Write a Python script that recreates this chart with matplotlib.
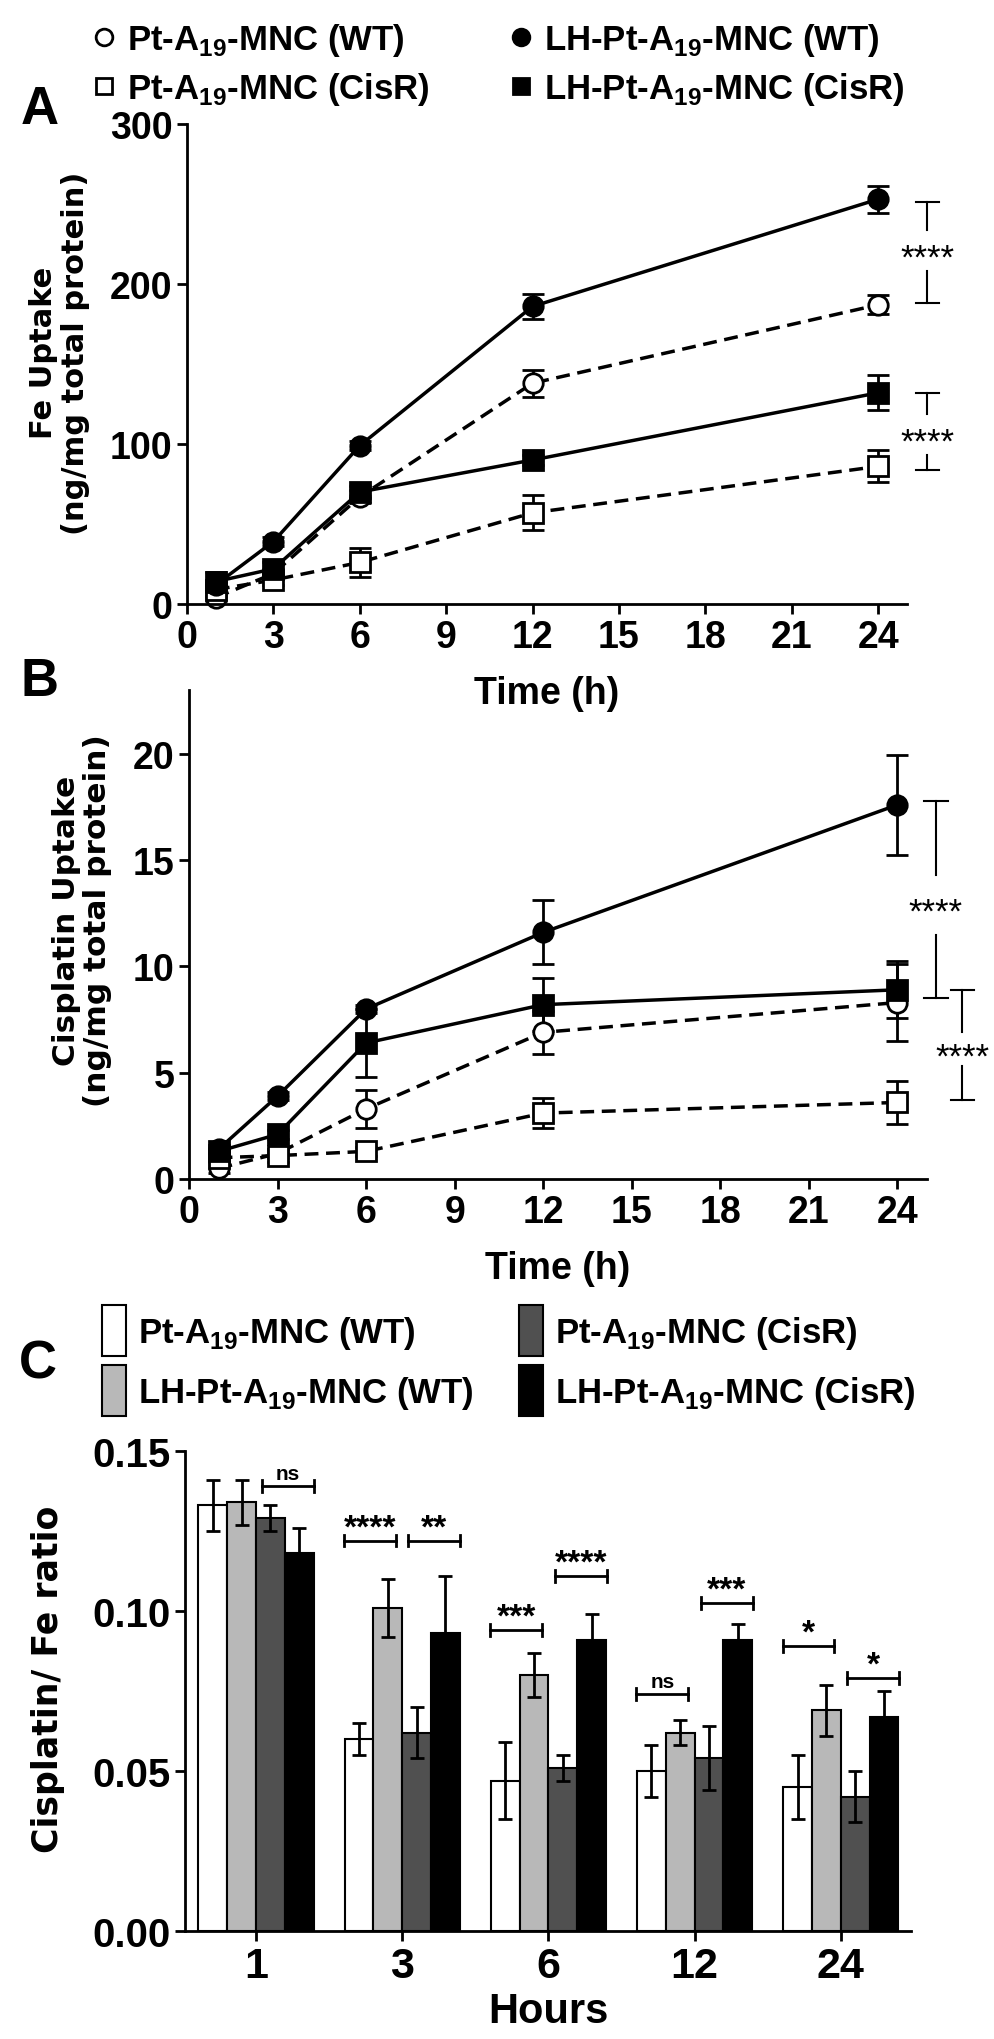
import matplotlib
matplotlib.use('Agg')
import matplotlib.pyplot as plt
import numpy as np
from matplotlib.lines import Line2D
from matplotlib.transforms import offset_copy

# Liberation Sans bold for ticks/legends, DejaVu Sans bold for the y labels
plt.rcParams['font.family'] = ['Liberation Sans', 'DejaVu Sans']
plt.rcParams['font.weight'] = 'bold'
plt.rcParams['axes.labelweight'] = 'bold'
plt.rcParams['mathtext.fontset'] = 'custom'
plt.rcParams['mathtext.bf'] = 'Liberation Sans:bold'
plt.rcParams['mathtext.rm'] = 'Liberation Sans:bold'
plt.rcParams['axes.linewidth'] = 2.0
plt.rcParams['xtick.major.width'] = 2.0
plt.rcParams['ytick.major.width'] = 2.0
plt.rcParams['xtick.major.size'] = 7
plt.rcParams['ytick.major.size'] = 7

# data
hours = [1, 3, 6, 12, 24]

fe_pt_wt = [4, 19, 67, 138, 187]
fe_pt_wt_err = [2, 3, 4, 8.5, 6]
fe_lh_wt = [12, 39, 99, 186, 253]
fe_lh_wt_err = [3, 3, 3, 8, 8.5]
fe_pt_cisr = [9, 15, 26, 57, 86]
fe_pt_cisr_err = [4, 3, 9, 11, 10]
fe_lh_cisr = [14, 22, 70, 90, 132]
fe_lh_cisr_err = [6, 4, 4, 3, 11]

cis_pt_wt = [0.5, 1.2, 3.3, 6.9, 8.3]
cis_pt_wt_err = [0.2, 0.2, 0.9, 1.0, 1.8]
cis_lh_wt = [1.4, 3.9, 8.0, 11.6, 17.6]
cis_lh_wt_err = [0.2, 0.2, 0.2, 1.5, 2.35]
cis_pt_cisr = [1.0, 1.1, 1.3, 3.1, 3.6]
cis_pt_cisr_err = [0.2, 0.3, 0.2, 0.7, 1.0]
cis_lh_cisr = [1.3, 2.1, 6.4, 8.2, 8.9]
cis_lh_cisr_err = [0.3, 0.2, 1.6, 1.25, 1.35]

ratio_groups = ['1', '3', '6', '12', '24']
ratio_pt_wt = [0.133, 0.060, 0.047, 0.050, 0.045]
ratio_pt_wt_err = [0.008, 0.005, 0.012, 0.008, 0.010]
ratio_lh_wt = [0.134, 0.101, 0.080, 0.062, 0.069]
ratio_lh_wt_err = [0.007, 0.009, 0.007, 0.004, 0.008]
ratio_pt_cisr = [0.129, 0.062, 0.051, 0.054, 0.042]
ratio_pt_cisr_err = [0.004, 0.008, 0.004, 0.010, 0.008]
ratio_lh_cisr = [0.118, 0.093, 0.091, 0.091, 0.067]
ratio_lh_cisr_err = [0.008, 0.018, 0.008, 0.005, 0.008]

# significance in C: (group, pair, y, label); pair 0 = WT bars, 1 = CisR bars
sig_c = [(0, 1, 0.139, 'ns'), (1, 0, 0.122, '****'), (1, 1, 0.122, '**'),
         (2, 0, 0.094, '***'), (2, 1, 0.111, '****'), (3, 0, 0.074, 'ns'),
         (3, 1, 0.1025, '***'), (4, 0, 0.089, '*'), (4, 1, 0.079, '*')]
# significance in A and B: (x, top, bottom, text centre, half gap, label)
sig_a = [(25.7, 251.5, 188, 221, 13, '****'), (25.7, 132, 84, 106, 13, '****')]
sig_b = [(25.3, 17.8, 8.5, 12.9, 1.4, '****'), (26.2, 8.9, 3.7, 6.1, 0.8, '****')]

lab_pt_wt = r'Pt-A$_{\mathbf{19}}$-MNC (WT)'
lab_lh_wt = r'LH-Pt-A$_{\mathbf{19}}$-MNC (WT)'
lab_pt_cisr = r'Pt-A$_{\mathbf{19}}$-MNC (CisR)'
lab_lh_cisr = r'LH-Pt-A$_{\mathbf{19}}$-MNC (CisR)'

fig = plt.figure(figsize=(9.95, 20.4), dpi=100)
W, H = 995, 2040


def px_axes(l, t, r, b):
    ax = fig.add_axes([l / W, 1 - b / H, (r - l) / W, (b - t) / H])
    ax.patch.set_visible(False)
    return ax


def line_panel(ax, series, sig, ymax, yticks):
    for y, e, mk, face, ls in series:
        ax.errorbar(hours, y, yerr=e, color='black', marker=mk, mfc=face, mec='black',
                    mew=2, ms=14, lw=2.5, ls=ls, capsize=8, capthick=2, elinewidth=2,
                    dashes=(4, 2.2) if ls == '--' else (None, None), clip_on=False)
    ax.set_xlim(0, 25)
    ax.set_ylim(0, ymax)
    ax.set_xticks(range(0, 25, 3))
    ax.set_yticks(yticks)
    ax.spines['top'].set_visible(False)
    ax.spines['right'].set_visible(False)
    ax.tick_params(labelsize=27)
    ax.set_xlabel('Time (h)', fontsize=27, labelpad=15)
    # asterisks sit high in the font, so shift the baseline down to centre them
    star_tr = offset_copy(ax.transData, fig=fig, y=-0.5 * 25, units='points')
    for x, top, bot, mid, gap, lab in sig:
        ax.plot([x, x], [top, mid + gap], color='black', lw=1.5, clip_on=False)
        ax.plot([x, x], [mid - gap, bot], color='black', lw=1.5, clip_on=False)
        for yy in (top, bot):
            ax.plot([x - 0.4, x + 0.4], [yy, yy], color='black', lw=1.5, clip_on=False)
        ax.text(x, mid, lab, ha='center', va='baseline', fontsize=25,
                fontweight='normal', transform=star_tr)


# panel A
axA = px_axes(187, 125, 907, 605)
line_panel(axA, [
    (fe_pt_wt, fe_pt_wt_err, 'o', 'white', '--'),
    (fe_pt_cisr, fe_pt_cisr_err, 's', 'white', '--'),
    (fe_lh_cisr, fe_lh_cisr_err, 's', 'black', '-'),
    (fe_lh_wt, fe_lh_wt_err, 'o', 'black', '-'),
], sig_a, 300, [0, 100, 200, 300])
axA.set_ylabel('Fe Uptake\n(ng/mg total protein)', family='DejaVu Sans', fontsize=22,
               linespacing=1.1)
axA.yaxis.set_label_coords(-0.135, 0.525)

# panel B
axB = px_axes(189, 691, 927, 1180)
line_panel(axB, [
    (cis_pt_wt, cis_pt_wt_err, 'o', 'white', '--'),
    (cis_pt_cisr, cis_pt_cisr_err, 's', 'white', '--'),
    (cis_lh_cisr, cis_lh_cisr_err, 's', 'black', '-'),
    (cis_lh_wt, cis_lh_wt_err, 'o', 'black', '-'),
], sig_b, 23, [0, 5, 10, 15, 20])
axB.set_ylabel('Cisplatin Uptake\n(ng/mg total protein)', family='DejaVu Sans', fontsize=22.5,
               linespacing=1.1)
axB.yaxis.set_label_coords(-0.104, 0.53)

# legend for A/B
leg_handles = [
    Line2D([], [], ls='none', marker='o', mfc='white', mec='black', mew=2, ms=12),
    Line2D([], [], ls='none', marker='s', mfc='white', mec='black', mew=2, ms=12),
    Line2D([], [], ls='none', marker='o', mfc='black', mec='black', mew=2, ms=12),
    Line2D([], [], ls='none', marker='s', mfc='black', mec='black', mew=2, ms=12),
]
fig.legend(leg_handles, [lab_pt_wt, lab_pt_cisr, lab_lh_wt, lab_lh_cisr],
           ncol=2, loc='upper left', bbox_to_anchor=(78 / W, 1 - 8 / H), frameon=False,
           fontsize=25, handlelength=0.7, handletextpad=0.3, columnspacing=2.3,
           labelspacing=0.35, borderaxespad=0)

# panel C
axC = px_axes(185, 1452, 911, 1932)
x = np.arange(len(ratio_groups))
w = 0.197
bar_sets = [
    (ratio_pt_wt, ratio_pt_wt_err, 'white', lab_pt_wt),
    (ratio_lh_wt, ratio_lh_wt_err, '#b8b8b8', lab_lh_wt),
    (ratio_pt_cisr, ratio_pt_cisr_err, '#505050', lab_pt_cisr),
    (ratio_lh_cisr, ratio_lh_cisr_err, 'black', lab_lh_cisr),
]
for i, (vals, errs, col, lab) in enumerate(bar_sets):
    axC.bar(x + (i - 1.5) * w, vals, w, yerr=errs, color=col, edgecolor='black', lw=1.5,
            capsize=5, error_kw=dict(elinewidth=2, capthick=2), label=lab)
star_c = offset_copy(axC.transData, fig=fig, y=3, units='points')
ns_c = offset_copy(axC.transData, fig=fig, y=5, units='points')
for g, pair, yy, lab in sig_c:
    c = x[g] + (pair * 2 - 1) * 1.12 * w
    left, right = c - 0.9 * w, c + 0.9 * w
    axC.plot([left, right], [yy, yy], color='black', lw=2)
    for xx in (left, right):
        axC.plot([xx, xx], [yy - 0.0018, yy + 0.0018], color='black', lw=2)
    if lab == 'ns':
        axC.text(c, yy, lab, ha='center', va='baseline', fontsize=15, transform=ns_c)
    else:
        axC.text(c, yy, lab, ha='center', va='baseline', fontsize=24, transform=star_c)
axC.set_xlim(-0.485, 4.48)
axC.set_ylim(0, 0.15)
axC.set_yticks([0, 0.05, 0.10, 0.15])
axC.set_yticklabels(['0.00', '0.05', '0.10', '0.15'])
axC.set_xticks(x)
axC.set_xticklabels(ratio_groups)
axC.spines['top'].set_visible(False)
axC.spines['right'].set_visible(False)
axC.tick_params(axis='y', labelsize=29)
axC.tick_params(axis='x', labelsize=31)
axC.set_xlabel('Hours', fontsize=30, labelpad=4)
axC.set_ylabel('Cisplatin/ Fe ratio', family='DejaVu Sans', fontsize=25)
axC.yaxis.set_label_coords(-0.165, 0.527)

hC, lC = axC.get_legend_handles_labels()
fig.legend(hC, lC, ncol=2, loc='upper left', bbox_to_anchor=(88 / W, 1 - 1292 / H),
           frameon=False, fontsize=25, handlelength=0.7, handleheight=1.9,
           handletextpad=0.35, columnspacing=1.3, labelspacing=0.25, borderaxespad=0)

# panel letters
for lab, xx, yy in [('A', 40, 110), ('B', 40, 682), ('C', 38, 1365)]:
    fig.text(xx / W, 1 - yy / H, lab, fontsize=38, fontweight='bold',
             ha='center', va='center')

fig.savefig('out.png', dpi=100)
